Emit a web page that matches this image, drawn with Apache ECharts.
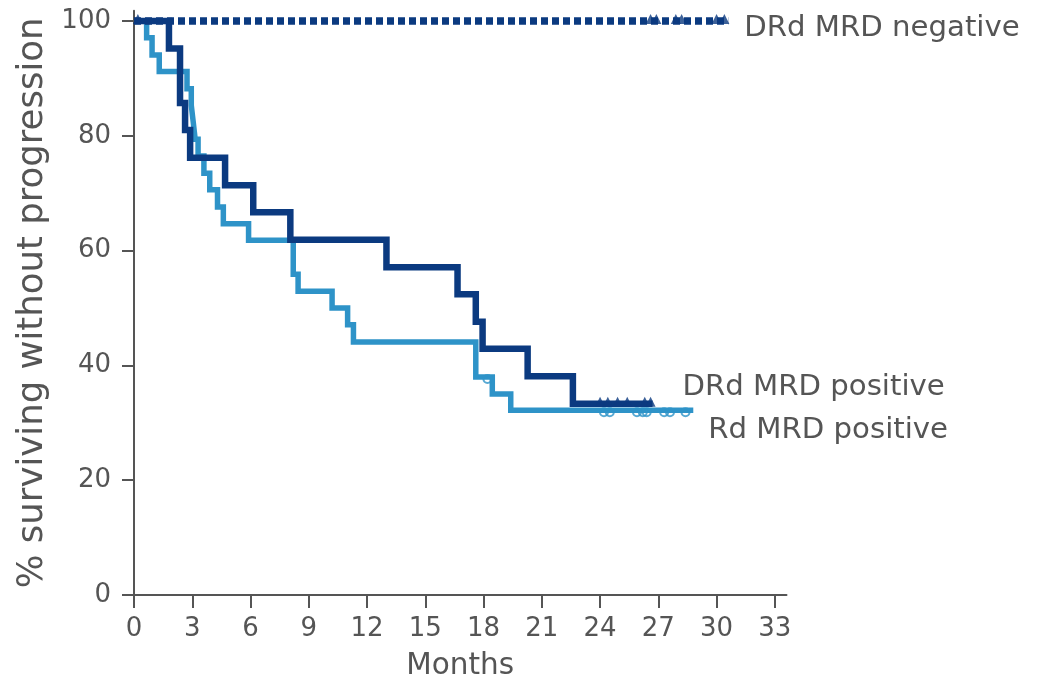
<!DOCTYPE html>
<html>
<head>
<meta charset="utf-8">
<script src="https://cdn.jsdelivr.net/npm/echarts@6/dist/echarts.min.js"></script>
<style>html,body{margin:0;padding:0;background:#fff;}#c{width:1043px;height:689px;}</style>
</head>
<body>
<div id="c"></div>
<script>
// ---- data ----
const xTicks = [0, 3, 6, 9, 12, 15, 18, 21, 24, 27, 30, 33];
const yTicks = [0, 20, 40, 60, 80, 100];

const drdNegName = 'DRd MRD negative';
const drdNegTime = [0, 30.6];
const drdNegSurv = [100, 100];
const drdNegCensorTime = [0.2, 26.6, 26.9, 27.9, 28.2, 30.0, 30.4];
const drdNegCensorSurv = [100, 100, 100, 100, 100, 100, 100];

const drdPosName = 'DRd MRD positive';
const drdPosTime = [0, 1.8, 2.37, 2.63, 2.89, 4.69, 6.14, 8.05, 13.0, 16.66, 17.6, 17.95, 20.27, 22.6, 26.7];
const drdPosSurv = [100, 95.2, 85.7, 81.0, 76.2, 71.4, 66.7, 61.9, 57.1, 52.4, 47.6, 42.9, 38.1, 33.3, 33.3];
const drdPosCensorTime = [24.0, 24.4, 24.9, 25.4, 26.3, 26.6];
const drdPosCensorSurv = [33.3, 33.3, 33.3, 33.3, 33.3, 33.3];

const rdPosName = 'Rd MRD positive';
const rdPosTime = [0, 0.65, 0.93, 1.3, 2.73, 2.95, 3.05, 3.15, 3.3, 3.6, 3.9, 4.3, 4.6, 5.9, 8.2, 8.45, 10.2, 11.0, 11.3, 17.6, 18.45, 19.4, 28.8];
const rdPosSurv = [100, 97.1, 94.1, 91.2, 88.2, 85.3, 82.4, 79.4, 76.5, 73.5, 70.6, 67.6, 64.7, 61.8, 55.9, 52.9, 50.0, 47.1, 44.1, 38.0, 35.0, 32.2, 32.2];
const rdPosCensorTime = [18.2, 24.2, 24.5, 25.9, 26.2, 26.4, 27.3, 27.6, 28.4];
const rdPosCensorSurv = [38.0, 32.2, 32.2, 32.2, 32.2, 32.2, 32.2, 32.2, 32.2];

const xTitle = 'Months';
const yTitle = '% surviving without progression';

// ---- styles ----
const DARK = '#0b3a80';
const LIGHT = '#2e93c8';
const AXIS = '#555555';
const TEXT = '#555555';
const FONT = 'DejaVu Sans';

const zip = (a, b) => a.map((v, i) => [v, b[i]]);

const chart = echarts.init(document.getElementById('c'), null, {renderer: 'canvas'});
chart.setOption({
  animation: false,
  backgroundColor: '#ffffff',
  textStyle: {fontFamily: FONT},
  grid: {left: 134, right: 256.5, top: 10.7, bottom: 94, containLabel: false},
  xAxis: {
    type: 'value', min: 0, max: 33.6,
    name: xTitle, nameLocation: 'middle', nameGap: 56,
    nameTextStyle: {fontSize: 29.5, color: TEXT, fontFamily: FONT},
    axisLine: {show: true, onZero: false, lineStyle: {color: AXIS, width: 2}},
    axisTick: {show: true, length: 13, lineStyle: {color: AXIS, width: 2}, customValues: xTicks},
    axisLabel: {fontSize: 26, color: TEXT, fontFamily: FONT, margin: 21, customValues: xTicks},
    splitLine: {show: false}
  },
  yAxis: {
    type: 'value', min: 0, max: 101.8,
    name: yTitle, nameLocation: 'middle', nameGap: 81, nameRotate: 90,
    nameTextStyle: {fontSize: 35.5, color: TEXT, fontFamily: FONT},
    axisLine: {show: true, onZero: false, lineStyle: {color: AXIS, width: 2}},
    axisTick: {show: true, length: 12, lineStyle: {color: AXIS, width: 2}, customValues: yTicks},
    axisLabel: {fontSize: 26, color: TEXT, fontFamily: FONT, margin: 23, padding: [12, 0, 0, 0], customValues: yTicks},
    splitLine: {show: false}
  },
  series: [
    {
      name: rdPosName, type: 'line', step: 'end', showSymbol: false, symbol: 'none',
      data: zip(rdPosTime, rdPosSurv),
      lineStyle: {color: LIGHT, width: 5.5, cap: 'butt', join: 'miter'},
      endLabel: {show: true, formatter: rdPosName, fontSize: 29.2, color: TEXT, fontFamily: FONT, distance: 15, offset: [0, 20]},
      z: 2
    },
    {
      name: rdPosName + ' censored', type: 'scatter',
      data: zip(rdPosCensorTime, rdPosCensorSurv),
      symbol: 'circle', symbolSize: 8, symbolOffset: [0, 2],
      itemStyle: {color: 'rgba(0,0,0,0)', borderColor: LIGHT, borderWidth: 2},
      z: 3
    },
    {
      name: drdPosName, type: 'line', step: 'end', showSymbol: false, symbol: 'none',
      data: zip(drdPosTime, drdPosSurv),
      lineStyle: {color: DARK, width: 6.5, cap: 'butt', join: 'miter'},
      endLabel: {show: true, formatter: drdPosName, fontSize: 29.2, color: TEXT, fontFamily: FONT, distance: 30, offset: [0, -16]},
      z: 4
    },
    {
      name: drdPosName + ' censored', type: 'scatter',
      data: zip(drdPosCensorTime, drdPosCensorSurv),
      symbol: 'triangle', symbolSize: 10, symbolOffset: [0, -2],
      itemStyle: {color: DARK},
      z: 5
    },
    {
      name: drdNegName, type: 'line', showSymbol: false, symbol: 'none',
      data: zip(drdNegTime, drdNegSurv),
      lineStyle: {color: DARK, width: 7.5, type: [7, 4], cap: 'butt'},
      endLabel: {show: true, formatter: drdNegName, fontSize: 29.2, color: TEXT, fontFamily: FONT, distance: 16, offset: [0, 7]},
      z: 6
    },
    {
      name: drdNegName + ' censored', type: 'scatter',
      data: zip(drdNegCensorTime, drdNegCensorSurv),
      symbol: 'triangle', symbolSize: 10, symbolOffset: [0, -2],
      itemStyle: {color: DARK},
      z: 7
    }
  ]
});
</script>
</body>
</html>
